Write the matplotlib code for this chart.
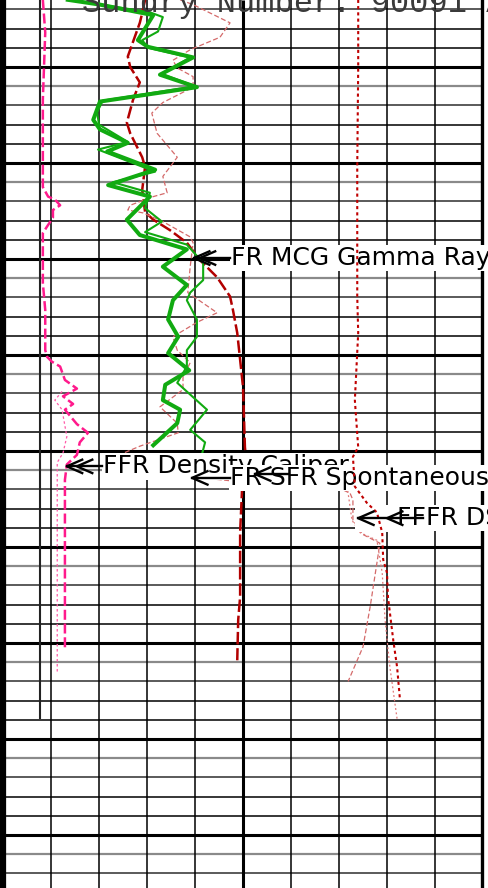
"""Well log track recreation: gamma ray, SP, caliper and density curves."""
import matplotlib
matplotlib.use("Agg")
import matplotlib.pyplot as plt
from matplotlib.patches import Rectangle

# ── curve data (depth in ft, value on a 0-100 track scale, 10 per division) ──
gr_depth = [4503.0, 4503.5, 4504.6, 4507.2, 4507.9, 4509.0, 4510.8, 4512.1, 4513.6, 4515.5,
            4516.5, 4517.9, 4518.8, 4520.7, 4522.3, 4523.5, 4525.9, 4527.5, 4529.0, 4530.8,
            4532.7, 4534.3, 4536.3, 4538.1, 4539.8, 4541.6, 4543.1, 4544.7, 4545.7, 4547.1, 4549.4]
gr_val = [13.5, 20.2, 31.3, 28.1, 30.2, 39.6, 32.7, 40.4, 20.2, 18.8,
          20.2, 26.0, 21.7, 31.7, 21.9, 30.6, 25.8, 28.5, 38.3, 33.3,
          38.3, 35.4, 34.4, 36.5, 34.4, 38.8, 33.8, 33.3, 36.9, 36.3, 31.3]

gr2_depth = [4503.0, 4504.3, 4504.8, 4506.3, 4507.2, 4508.0, 4509.0, 4510.7, 4512.0, 4513.5,
             4514.7, 4516.0, 4517.8, 4518.6, 4520.9, 4522.0, 4523.1, 4524.7, 4526.1, 4527.2,
             4528.5, 4530.4, 4532.2, 4533.5, 4534.3, 4536.3, 4538.1, 4539.5, 4541.2, 4542.9,
             4545.7, 4547.8, 4549.1, 4551.2]
gr2_val = [14.0, 30.6, 33.3, 32.3, 29.0, 30.2, 39.0, 33.1, 40.0, 20.8,
           19.6, 20.0, 26.0, 19.8, 31.7, 22.9, 30.6, 29.6, 33.1, 29.6,
           38.3, 41.7, 41.7, 39.0, 38.3, 40.4, 40.4, 38.3, 38.3, 36.3,
           42.5, 39.0, 42.1, 41.0]

sp_depth = [4503.0, 4504.4, 4505.4, 4508.9, 4510.0, 4511.6, 4513.4, 4515.8, 4516.9, 4519.4,
            4520.4, 4522.8, 4525.1, 4525.9, 4527.0, 4528.3, 4530.1, 4531.9, 4533.9, 4535.3,
            4537.7, 4543.3, 4549.6, 4551.6, 4554.0, 4558.5, 4565.2, 4567.6, 4571.8]
sp_val = [29.6, 29.0, 28.5, 26.0, 26.5, 28.5, 27.1, 25.8, 26.5, 29.0,
          29.6, 29.0, 29.6, 31.3, 34.8, 38.3, 41.0, 44.6, 47.3, 47.9,
          48.8, 50.0, 50.4, 50.8, 49.8, 49.4, 49.4, 49.0, 48.8]

rhob_depth = [4503.0, 4503.5, 4505.4, 4506.9, 4508.2, 4509.3, 4510.1, 4511.0, 4512.1, 4513.7,
              4514.8, 4516.9, 4519.4, 4521.4, 4523.1, 4523.5, 4524.4, 4524.9, 4525.2, 4526.1,
              4527.7, 4528.3, 4530.8, 4533.5, 4534.6, 4535.6, 4536.6, 4538.1, 4539.5, 4540.8,
              4542.3, 4543.6, 4545.4, 4547.1, 4548.1, 4549.5, 4550.6, 4551.5, 4552.2, 4552.7,
              4553.2, 4553.6, 4553.9, 4554.4, 4555.1, 4557.2, 4558.7, 4559.6, 4561.0, 4566.2,
              4570.4, 4574.0]
rhob_val = [36.9, 39.6, 47.3, 45.2, 39.0, 35.4, 36.3, 39.6, 39.6, 33.3,
            31.0, 32.1, 36.3, 33.3, 34.2, 31.3, 26.5, 26.0, 29.2, 33.3,
            39.0, 39.6, 39.0, 38.5, 41.7, 44.6, 40.4, 35.4, 36.3, 39.0,
            37.5, 37.5, 32.7, 36.3, 36.5, 28.5, 23.3, 23.3, 30.0, 39.4,
            49.4, 61.9, 70.2, 72.3, 72.9, 72.9, 75.0, 78.5, 78.1, 76.5,
            75.0, 71.9]

dens_depth = [4503.0, 4510.0, 4520.4, 4533.9, 4537.7, 4544.7, 4549.6, 4550.6, 4553.7, 4555.4,
              4556.4, 4558.5, 4561.3, 4562.7, 4565.2, 4569.7, 4572.5, 4575.9]
dens_val = [74.0, 74.0, 73.8, 73.8, 74.0, 73.3, 74.0, 72.9, 73.3, 75.8,
            77.9, 79.0, 79.2, 80.0, 80.2, 81.3, 82.1, 82.7]

dens2_depth = [4553.7, 4557.2, 4558.5, 4559.3, 4562.7, 4567.6, 4572.5, 4577.9]
dens2_val = [71.7, 72.7, 74.4, 77.9, 79.0, 79.6, 80.6, 82.1]

cal_depth = [4503.0, 4506.4, 4513.4, 4522.5, 4523.5, 4523.8, 4524.4, 4524.9, 4525.7, 4526.6,
             4527.3, 4532.5, 4535.3, 4539.5, 4540.2, 4540.7, 4541.2, 4542.6, 4543.5, 4544.3,
             4545.1, 4545.7, 4547.2, 4548.1, 4549.1, 4550.4, 4551.4, 4553.0, 4565.5, 4570.7]
cal_val = [8.3, 8.8, 8.3, 8.3, 9.4, 10.8, 11.9, 10.4, 10.4, 9.2,
           8.3, 8.3, 8.8, 8.8, 9.2, 10.2, 11.9, 12.9, 15.4, 12.5,
           14.6, 12.9, 15.4, 17.7, 16.0, 15.4, 13.3, 12.9, 12.9, 12.9]

cal2_depth = [4543.8, 4544.7, 4545.7, 4548.5, 4550.2, 4551.2, 4573.1]
cal2_val = [12.3, 10.8, 12.3, 13.3, 12.5, 11.3, 11.3]

# labels: (text start, depth, text, arrow tips, shaft end)
labels = [
    (47.5, 4529.9, "FR MCG Gamma Ray", [39.8, 41.0], 47.3),
    (20.8, 4551.6, "FFR Density Caliper", [13.3, 15.4], 20.6),
    (47.3, 4552.8, "FR SFR Spontaneous", [39.4], 47.3),
    (82.1, 4557.0, "FFFR DSN", [74.0, 80.0], 87.5),
]

TOP, BOTTOM = 4503.02, 4503.02 + 888 / 9.6

fig = plt.figure(figsize=(4.88, 8.88), dpi=100)
ax = fig.add_axes([0, 0, 1, 1])
ax.set_xlim(-0.625, 101.04)
ax.set_ylim(BOTTOM, TOP)
ax.axis("off")

# ── grid ─────────────────────────────────────────────────────────────────────
for d in range(4504, 4596, 2):
    m = d % 10
    if m == 0:
        ax.hlines(d, 0, 99.7, color="black", lw=2.2, zorder=1)
    elif m == 2:
        ax.hlines(d, 0, 99.7, color="#8a8a8a", lw=1.6, zorder=1)
    elif m == 4:
        ax.hlines(d, 0, 99.7, color="#5a5a5a", lw=1.4, zorder=1)
    else:
        ax.hlines(d, 0, 99.7, color="black", lw=1.1, zorder=1)
for u in range(10, 100, 10):
    ax.vlines(u, TOP, BOTTOM, color="black", lw=2.2 if u == 50 else 1.1, zorder=1)
ax.axvline(0, color="black", lw=4.5, zorder=1)
ax.axvline(99.7, color="black", lw=2.4, zorder=1)
ax.vlines(7.7, TOP, 4577.9, color="#222222", lw=1.5, zorder=1)

fig.text(82 / 488, 1 - 12 / 888, "Sundry Number: 90091 API Well Number",
         family="Liberation Mono", fontsize=23, color="#3a3a3a", va="baseline", zorder=2)

# ── curves ───────────────────────────────────────────────────────────────────
ax.plot(cal_val, cal_depth, color="#FF1A8C", lw=1.8, dashes=(4, 1.5), zorder=3)
ax.plot(cal2_val, cal2_depth, color="#FF5AA8", lw=0.9, dashes=(2, 2), zorder=3)
ax.plot(sp_val, sp_depth, color="#B20000", lw=1.8, dashes=(5, 1.5), zorder=3)
ax.plot(rhob_val, rhob_depth, color="#D46A6A", lw=0.9, dashes=(4, 2), zorder=3)
ax.plot(gr2_val, gr2_depth, color="#11AA11", lw=1.5, zorder=4)
ax.plot(gr_val, gr_depth, color="#11AA11", lw=2.9, zorder=4)
ax.plot(dens2_val, dens2_depth, color="#E07878", lw=0.9, dashes=(1.5, 2), zorder=4)

# ── labels with pointers ─────────────────────────────────────────────────────
box = dict(boxstyle="square,pad=0.05", fc="white", ec="none")
for i, (tx, td, text, tips, shaft_end) in enumerate(labels):
    ax.text(tx, td, text, fontsize=18, family="DejaVu Sans", color="black",
            ha="left", va="center", bbox=box, zorder=5 + i)
ax.add_patch(Rectangle((73.3, 4555.6), 8.8, 2.8, fc="white", ec="none", zorder=8))

ax.plot(dens_val, dens_depth, color="#C00000", lw=1.5, dashes=(1.5, 1.5), zorder=9)

def pointer(tips, d, shaft_end):
    for t in tips:
        ax.plot([t + 3.2, t, t + 3.2], [d - 0.7, d, d + 0.7], color="black", lw=1.7, zorder=10)
    ax.plot([min(tips), shaft_end], [d, d], color="black", lw=1.7, zorder=10)

for tx, td, text, tips, shaft_end in labels:
    pointer(tips, td, shaft_end)
pointer([52.5], 4552.4, 59.4)

fig.savefig("out.png", dpi=100)
